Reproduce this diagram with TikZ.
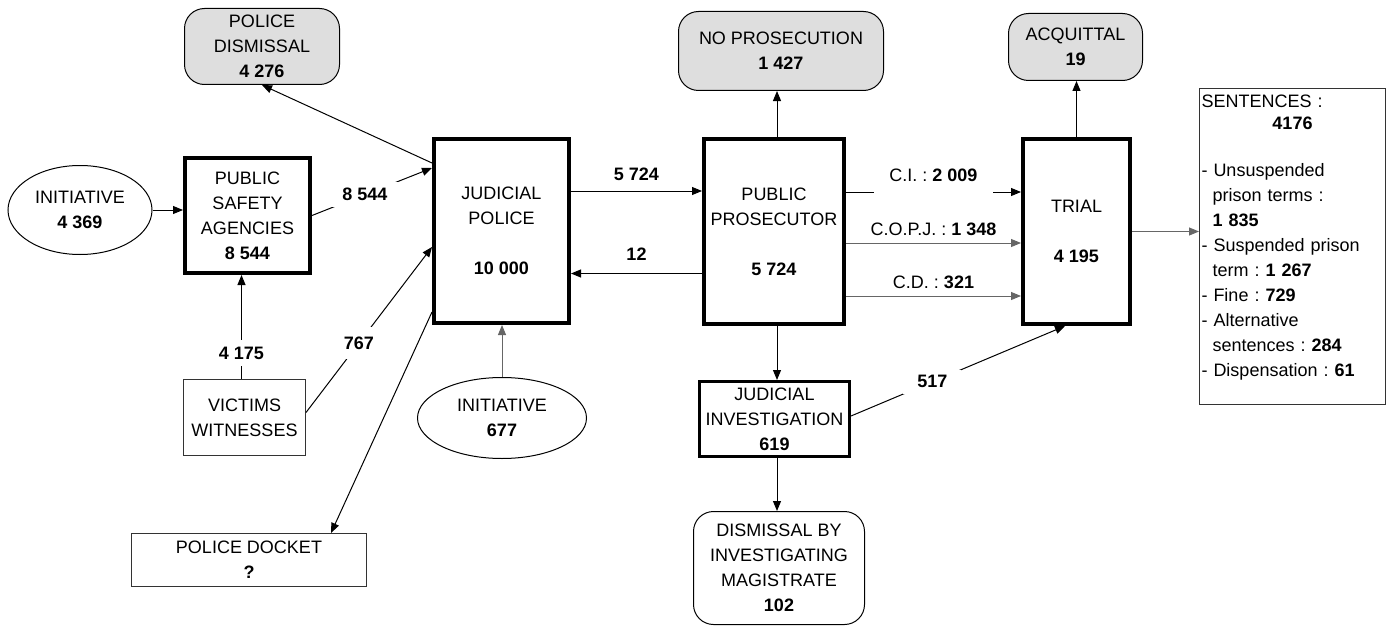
\documentclass[tikz,border=0pt]{standalone}
\usepackage{fontspec}
\setmainfont{Liberation Sans}
\usetikzlibrary{arrows.meta,shapes.geometric}
\begin{document}
\frenchspacing
\begin{tikzpicture}[x=1pt,y=-1pt,font=\fontsize{18}{25}\selectfont,
	box/.style={draw,line width=1pt,align=center,inner sep=0pt},
	heavy/.style={box,line width=4pt},
	outcome/.style={box,rounded corners=20pt,fill=black!13},
	source/.style={box,ellipse},
	flow/.style={line width=1pt,-{Triangle[length=10pt,width=8pt]}},
	count/.style={fill=white,font=\fontsize{18}{25}\selectfont\bfseries}]
	\useasboundingbox (0,0) rectangle (1390,626);
	\node[source,minimum width=144,minimum height=89] (init1) at (80,210) {INITIATIVE\\\textbf{4 369}};
	\node[heavy,minimum width=125,minimum height=115] (psa) at (247.5,215.5) {PUBLIC\\SAFETY\\AGENCIES\\\textbf{8 544}};
	\node[box,draw=black!80,minimum width=122,minimum height=76] (victims) at (244.5,417.5) {VICTIMS\\WITNESSES};
	\node[outcome,minimum width=155,minimum height=76] (dism) at (262,46.5) {POLICE\\DISMISSAL\\\textbf{4 276}};
	\node[heavy,minimum width=135,minimum height=184] (jp) at (501.5,231) {JUDICIAL\\POLICE\\[25pt]\textbf{10 000}};
	\node[source,minimum width=169,minimum height=81] (init2) at (502,418) {INITIATIVE\\\textbf{677}};
	\node[box,draw=black!80,minimum width=235,minimum height=53] (docket) at (249,560) {POLICE DOCKET\\\textbf{?}};
	\node[heavy,minimum width=140,minimum height=185] (pp) at (774,231.5) {PUBLIC\\PROSECUTOR\\[25pt]\textbf{5 724}};
	\node[outcome,minimum width=205,minimum height=79] (noprose) at (781,51) {NO PROSECUTION\\\textbf{1 427}};
	\node[box,line width=3pt,minimum width=150,minimum height=75] (ji) at (774.5,419) {JUDICIAL\\INVESTIGATION\\\textbf{619}};
	\node[box,rounded corners=20pt,minimum width=171,minimum height=113] (dmag) at (779,568) {DISMISSAL BY\\INVESTIGATING\\MAGISTRATE\\\textbf{102}};
	\node[heavy,minimum width=107,minimum height=185] (trial) at (1076.5,231.5) {TRIAL\\[25pt]\textbf{4 195}};
	\node[outcome,minimum width=134,minimum height=67] (acq) at (1075.5,47) {ACQUITTAL\\\textbf{19}};
	\node[box,draw=black!80,anchor=north west,minimum width=186,minimum height=316,text width=182pt,align=left,inner sep=2pt] (sent) at (1199,88) {SENTENCES :\\[-3pt]\makebox[182pt]{\textbf{4176}}\\[22pt]- Unsuspended\\\hspace*{11pt}prison terms :\\\hspace*{11pt}\textbf{1 835}\\- Suspended prison\\\hspace*{11pt}term : \textbf{1 267}\\- Fine : \textbf{729}\\- Alternative\\\hspace*{11pt}sentences : \textbf{284}\\- Dispensation : \textbf{61}\\[-4pt]\mbox{}};

	\draw[flow] (init1.east) -- (init1.east -| psa.west);
	\draw[flow] ([xshift=-3pt]victims.north) -- ([xshift=-3pt]victims.north |- psa.south) node[count,pos=0.25,inner xsep=2pt,inner ysep=7pt] {4 175};
	\draw[flow] (psa.east) -- ([yshift=63pt]jp.west) node[count,pos=0.44,inner xsep=13pt,inner ysep=6pt] {8 544};
	\draw[flow] ([yshift=68pt]jp.west) -- (dism.south);
	\draw[flow] ([yshift=5pt]victims.east) -- ([yshift=-16pt]jp.west) node[count,pos=0.42,inner xsep=2pt,inner ysep=10pt] {767};
	\draw[flow] ([yshift=-81pt]jp.west) -- ([xshift=82pt]docket.north);
	\draw[flow,draw=black!60] (init2.north) -- (init2.north |- jp.south);
	\draw[flow] ([yshift=40pt]jp.east) -- ([yshift=40pt]jp.east -| pp.west) node[midway,above=6.5pt] {\textbf{5 724}};
	\draw[flow] ([yshift=-42pt]pp.west) -- ([yshift=-42pt]pp.west -| jp.east) node[midway,above=9.5pt] {\textbf{12}};
	\draw[flow] ([xshift=3pt]pp.north) -- ([xshift=3pt]pp.north |- noprose.south);
	\draw[flow] ([yshift=39.5pt]pp.east) -- ([yshift=39.5pt]pp.east -| trial.west) node[midway,fill=white,inner xsep=15.5pt,inner ysep=0pt,text height=13pt,text depth=34pt] {C.I. : \textbf{2 009}};
	\draw[flow,draw=black!60] ([yshift=-11.5pt]pp.east) -- ([yshift=-11.5pt]pp.east -| trial.west) node[midway,above=3.5pt] {C.O.P.J. : \textbf{1 348}};
	\draw[flow,draw=black!60] ([yshift=-64.5pt]pp.east) -- ([yshift=-64.5pt]pp.east -| trial.west) node[midway,above=3.5pt] {C.D. : \textbf{321}};
	\draw[flow] ([xshift=3pt]pp.south) -- ([xshift=3pt]pp.south |- ji.north);
	\draw[flow] ([xshift=2.5pt]ji.south) -- ([xshift=2.5pt]ji.south |- dmag.north);
	\draw[flow] ([yshift=3pt]ji.east) -- ([xshift=-11.5pt]trial.south) node[count,pos=0.38,inner xsep=14pt,inner ysep=6pt] {517};
	\draw[flow] (trial.north) -- (trial.north |- acq.south);
	\draw[flow,draw=black!60] (trial.east) -- (trial.east -| sent.west);
\end{tikzpicture}
\end{document}
